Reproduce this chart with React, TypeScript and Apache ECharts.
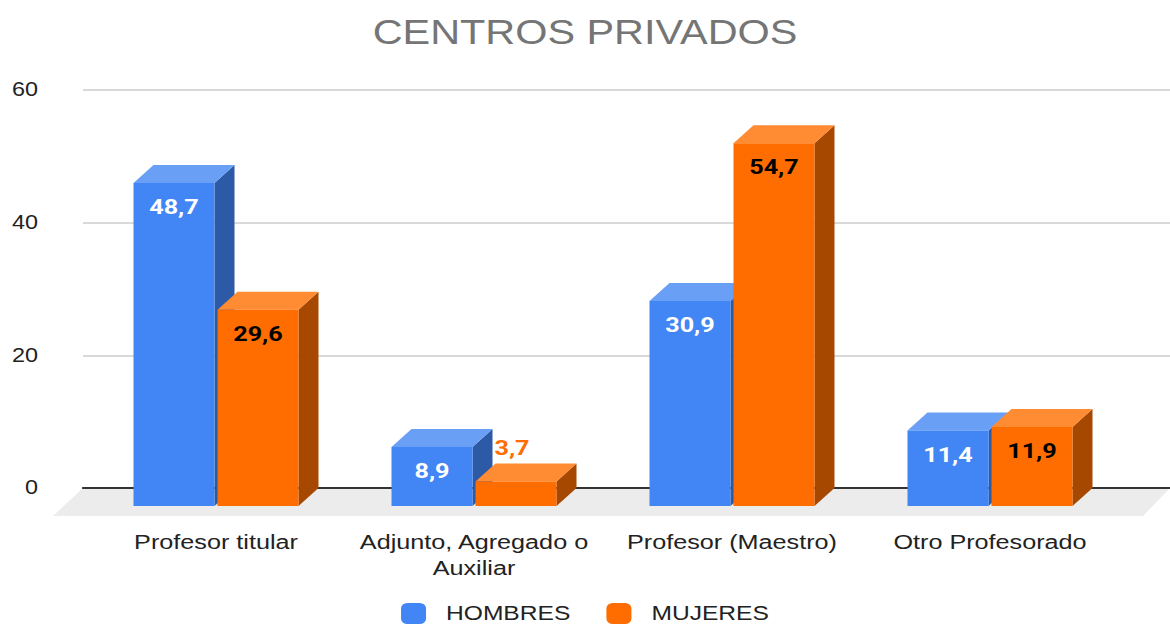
import React, { useEffect, useRef } from 'react';
import * as echarts from 'echarts';

const categories = ['Profesor titular', 'Adjunto, Agregado o\nAuxiliar', 'Profesor (Maestro)', 'Otro Profesorado'];
const hombres = [48.7, 8.9, 30.9, 11.4];
const mujeres = [29.6, 3.7, 54.7, 11.9];
const seriesNames = ['HOMBRES', 'MUJERES'];
const yMin = 0;
const yMax = 60;
const yInterval = 20;

const palettes = [
  { front: '#4285f4', top: '#6a9ff6', side: '#2c5aa6', label: '#ffffff' },
  { front: '#ff6d00', top: '#ff8b33', side: '#a64800', label: '#000000' },
];

// The reference is horizontally stretched; the chart is drawn narrower and scaled on x.
const SX = 1.2;
const W = 1170;
const H = 626;
const CW = W / SX;
const px = (v: number) => v / SX;

const BAR_W = px(81);
const GAP = px(3);
const DX = px(20);
const DY = 18;

function makeRenderItem(si: number) {
  return (params: any, api: any) => {
    const idx = api.value(0);
    const val = api.value(1);
    const [cx, yv] = api.coord([idx, val]);
    const [, y0] = api.coord([idx, 0]);
    const x = si === 0 ? cx - GAP / 2 - BAR_W : cx + GAP / 2;
    const p = palettes[si];
    const fTop = yv + DY;
    const fBot = y0 + DY;
    const children: any[] = [
      {
        type: 'polygon',
        shape: { points: [[x + BAR_W, fTop], [x + BAR_W + DX, yv], [x + BAR_W + DX, y0], [x + BAR_W, fBot]] },
        style: { fill: p.side },
      },
      {
        type: 'polygon',
        shape: { points: [[x, fTop], [x + DX, yv], [x + BAR_W + DX, yv], [x + BAR_W, fTop]] },
        style: { fill: p.top },
      },
      {
        type: 'rect',
        shape: { x, y: fTop, width: BAR_W, height: fBot - fTop },
        style: { fill: p.front },
      },
    ];
    const label = String(val).replace('.', ',');
    const inside = fBot - fTop > 45;
    children.push({
      type: 'text',
      style: {
        text: label,
        x: inside ? x + BAR_W / 2 : x + BAR_W / 2 - px(4),
        y: inside ? fTop + 24 : yv - 16,
        align: 'center',
        verticalAlign: 'middle',
        fill: inside ? p.label : p.front,
        font: 'bold 21px Roboto',
      },
    });
    return { type: 'group', children };
  };
}

export default function App() {
  const ref = useRef<HTMLDivElement>(null);
  useEffect(() => {
    document.body.style.margin = '0';
    document.body.style.overflow = 'hidden';
    const chart = echarts.init(ref.current!, null, { renderer: 'svg' });
    const datasets = [hombres, mujeres];
    chart.setOption({
      animation: false,
      backgroundColor: '#ffffff',
      title: {
        text: 'CENTROS PRIVADOS',
        left: 'center',
        top: 10,
        textStyle: { fontFamily: 'Liberation Sans', fontSize: 34.5, fontWeight: 'normal', color: '#757575' },
      },
      legend: {
        left: 'center',
        top: 598,
        itemWidth: px(25),
        itemHeight: 21,
        itemGap: px(36),
        textStyle: { fontFamily: 'Liberation Sans', fontSize: 20.5, color: '#222', padding: [0, 0, 0, px(14)] },
        data: seriesNames.map((n, i) => ({ name: n, icon: 'roundRect', itemStyle: { color: palettes[i].front } })),
      },
      graphic: [
        {
          type: 'polygon',
          z: -5,
          shape: { points: [[px(83), 488], [px(1170), 488], [px(1143), 516], [px(53), 516]] },
          style: { fill: '#ececec' },
        },
      ],
      grid: [
        { left: px(83), right: 0, top: 90, bottom: H - 488 },
        { left: px(87), right: px(51), top: 90, bottom: H - 488 },
      ],
      xAxis: [
        {
          gridIndex: 0,
          type: 'category',
          data: categories,
          axisLine: { lineStyle: { color: '#333', width: 2 } },
          axisTick: { show: false },
          axisLabel: { show: false },
        },
        {
          gridIndex: 1,
          type: 'category',
          data: categories,
          axisLine: { show: false },
          axisTick: { show: false },
          axisLabel: {
            interval: 0,
            margin: 41,
            fontFamily: 'Liberation Sans',
            fontSize: 21,
            lineHeight: 26,
            color: '#222',
          },
        },
      ],
      yAxis: [
        {
          gridIndex: 0,
          type: 'value',
          min: yMin,
          max: yMax,
          interval: yInterval,
          axisLine: { show: false },
          axisTick: { show: false },
          axisLabel: { margin: px(45), fontFamily: 'Liberation Sans', fontSize: 19.5, color: '#222' },
          splitLine: { lineStyle: { color: '#cccccc', width: 1.5 } },
        },
        {
          gridIndex: 1,
          type: 'value',
          min: yMin,
          max: yMax,
          interval: yInterval,
          show: false,
          splitLine: { show: false },
        },
      ],
      series: seriesNames.map((name, si) => ({
        name,
        type: 'custom',
        xAxisIndex: 1,
        yAxisIndex: 1,
        itemStyle: { color: palettes[si].front },
        renderItem: makeRenderItem(si),
        encode: { x: 0, y: 1 },
        data: datasets[si].map((v, i) => [i, v]),
      })),
    });
    return () => chart.dispose();
  }, []);
  return (
    <div style={{ width: W, height: H, overflow: 'hidden' }}>
      <div ref={ref} style={{ width: CW, height: H, transform: `scaleX(${SX})`, transformOrigin: '0 0' }} />
    </div>
  );
}
